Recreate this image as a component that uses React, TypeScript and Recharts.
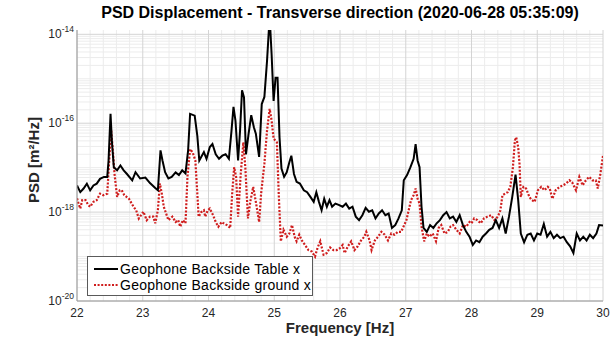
import React from 'react';
import { LineChart, Line, XAxis, YAxis, CartesianGrid, Legend } from 'recharts';

const tableFreq = [
  22.0, 22.05, 22.1, 22.15, 22.2, 22.25, 22.3, 22.35, 22.41, 22.46, 22.48, 22.51, 22.53, 22.56, 22.61, 22.66,
  22.71, 22.76, 22.84, 22.89, 22.96, 23.04, 23.11, 23.19, 23.23, 23.27, 23.3, 23.34, 23.39, 23.44, 23.5, 23.55,
  23.6, 23.65, 23.69, 23.72, 23.79, 23.83, 23.86, 23.93, 23.97, 24.02, 24.06, 24.11, 24.16, 24.21, 24.26, 24.31,
  24.35, 24.38, 24.41, 24.45, 24.48, 24.51, 24.54, 24.57, 24.61, 24.65, 24.69, 24.72, 24.77, 24.81, 24.85, 24.89,
  24.93, 24.96, 24.99, 25.02, 25.05, 25.08, 25.11, 25.15, 25.19, 25.23, 25.26, 25.3, 25.34, 25.39, 25.45, 25.5,
  25.55, 25.6, 25.64, 25.68, 25.72, 25.76, 25.8, 25.84, 25.88, 25.93, 25.98, 26.04, 26.09, 26.14, 26.19, 26.24,
  26.29, 26.34, 26.39, 26.44, 26.49, 26.54, 26.59, 26.64, 26.69, 26.74, 26.79, 26.84, 26.89, 26.94, 26.97, 27.02,
  27.07, 27.12, 27.15, 27.18, 27.21, 27.24, 27.27, 27.32, 27.37, 27.42, 27.47, 27.52, 27.57, 27.62, 27.67, 27.72,
  27.77, 27.82, 27.87, 27.92, 27.97, 28.02, 28.07, 28.12, 28.17, 28.22, 28.27, 28.32, 28.37, 28.42, 28.47, 28.52,
  28.57, 28.62, 28.67, 28.71, 28.75, 28.8, 28.85, 28.9, 28.95, 29.0, 29.05, 29.1, 29.15, 29.2, 29.25, 29.3,
  29.35, 29.4, 29.45, 29.5, 29.55, 29.6, 29.65, 29.7, 29.75, 29.8, 29.85, 29.9, 29.94, 30.0,
];
const tableVal = [
  3.98e-18, 2.82e-18, 3.39e-18, 4.37e-18, 3.09e-18, 3.98e-18, 4.37e-18, 5.6e-18, 6.2e-18, 6.2e-18, 1.45e-17, 1.62e-16, 4.07e-17, 1.02e-17, 8.7e-18, 1.12e-17,
  8.7e-18, 7.2e-18, 5.2e-18, 7.9e-18, 5.7e-18, 6.0e-18, 4.5e-18, 3.5e-18, 3.1e-18, 2.45e-17, 1.45e-17, 7.9e-18, 5.7e-18, 6.2e-18, 7.8e-18, 6.8e-18,
  8.7e-18, 7.4e-18, 2.45e-17, 1.62e-16, 1.48e-16, 5.2e-17, 1.45e-17, 2.24e-17, 1.58e-17, 2.9e-17, 3.4e-17, 2.0e-17, 1.58e-17, 1.86e-17, 2.0e-17, 1.58e-17,
  6.8e-17, 2.34e-16, 1.15e-16, 1.45e-17, 6.8e-17, 5.5e-16, 3.8e-16, 2.0e-17, 5.8e-17, 1.51e-16, 8.1e-17, 5.8e-17, 1.74e-17, 2.7e-16, 3.9e-16, 2.5e-15,
  2.5e-14, 3.5e-15, 3.16e-16, 1.05e-15, 1.05e-15, 4.8e-17, 9.5e-18, 6.2e-18, 7.9e-18, 1.32e-17, 1.86e-17, 7.2e-18, 4.8e-18, 4.4e-18, 3.1e-18, 2.8e-18,
  2.2e-18, 1.7e-18, 2.8e-18, 1.7e-18, 1.1e-18, 2.0e-18, 1.32e-18, 1.86e-18, 1.32e-18, 1.55e-18, 1.45e-18, 1.32e-18, 1.55e-18, 1.2e-18, 1.32e-18, 7.9e-19,
  6.6e-19, 8.5e-19, 1.25e-18, 1.02e-18, 1.1e-18, 7.2e-19, 9.3e-19, 1.1e-18, 8.5e-19, 9.3e-19, 4.4e-19, 5.1e-19, 7.2e-19, 1.1e-18, 5.2e-18, 6.8e-18,
  1.02e-17, 1.58e-17, 3.4e-17, 1.45e-17, 1.02e-17, 1.32e-18, 4.4e-19, 3.6e-19, 5.1e-19, 4.4e-19, 5.6e-19, 6.6e-19, 8.5e-19, 1.0e-18, 7.2e-19, 7.9e-19,
  6.0e-19, 8.5e-19, 5.1e-19, 3.6e-19, 2.8e-19, 1.82e-19, 2.3e-19, 2.1e-19, 2.8e-19, 3.3e-19, 4.0e-19, 4.4e-19, 6.6e-19, 4.4e-19, 7.2e-19, 3.3e-19,
  7.9e-19, 2.2e-18, 7.0e-18, 1.86e-18, 3.3e-19, 2.1e-19, 3.1e-19, 3.3e-19, 2.3e-19, 3.3e-19, 3.1e-19, 5.4e-19, 2.8e-19, 3.6e-19, 2.6e-19, 3.1e-19,
  2.6e-19, 2.8e-19, 2.1e-19, 1.7e-19, 1.2e-19, 3.3e-19, 2.3e-19, 2.8e-19, 2.3e-19, 3.1e-19, 2.6e-19, 3.3e-19, 5.1e-19, 5.0e-19,
];

const groundFreq = [
  22.0, 22.03, 22.05, 22.08, 22.13, 22.17, 22.2, 22.25, 22.3, 22.35, 22.4, 22.46, 22.49, 22.52, 22.55, 22.57,
  22.61, 22.65, 22.68, 22.72, 22.79, 22.86, 22.9, 22.94, 23.01, 23.06, 23.11, 23.16, 23.19, 23.23, 23.26, 23.29,
  23.32, 23.39, 23.45, 23.5, 23.54, 23.57, 23.61, 23.65, 23.68, 23.72, 23.76, 23.8, 23.83, 23.85, 23.89, 23.93,
  23.95, 23.99, 24.02, 24.07, 24.11, 24.15, 24.2, 24.23, 24.28, 24.33, 24.36, 24.39, 24.42, 24.45, 24.49, 24.53,
  24.56, 24.6, 24.64, 24.68, 24.72, 24.77, 24.8, 24.85, 24.89, 24.93, 24.96, 24.99, 25.04, 25.07, 25.1, 25.14,
  25.19, 25.23, 25.27, 25.31, 25.34, 25.38, 25.42, 25.47, 25.52, 25.57, 25.62, 25.66, 25.7, 25.75, 25.8, 25.85,
  25.9, 25.95, 26.0, 26.04, 26.07, 26.12, 26.17, 26.22, 26.27, 26.32, 26.37, 26.4, 26.45, 26.48, 26.53, 26.58,
  26.63, 26.68, 26.73, 26.78, 26.83, 26.88, 26.93, 27.01, 27.08, 27.12, 27.15, 27.18, 27.21, 27.24, 27.28, 27.32,
  27.36, 27.41, 27.46, 27.5, 27.54, 27.59, 27.64, 27.68, 27.72, 27.77, 27.82, 27.87, 27.92, 27.97, 28.0, 28.04,
  28.09, 28.14, 28.19, 28.24, 28.3, 28.35, 28.4, 28.44, 28.47, 28.51, 28.55, 28.59, 28.63, 28.66, 28.68, 28.71,
  28.73, 28.75, 28.79, 28.83, 28.88, 28.91, 28.96, 29.01, 29.06, 29.11, 29.16, 29.19, 29.23, 29.28, 29.34, 29.39,
  29.44, 29.49, 29.53, 29.59, 29.64, 29.69, 29.74, 29.79, 29.84, 29.89, 29.92, 29.96, 30.0,
];
const groundVal = [
  2.04e-18, 1.45e-18, 1.2e-18, 1.86e-18, 1.86e-18, 1.45e-18, 1.32e-18, 1.7e-18, 1.86e-18, 2.6e-18, 2.4e-18, 2.6e-18, 1.45e-17, 6.8e-17, 2.0e-17, 7.4e-18,
  2.2e-18, 3.1e-18, 3.1e-18, 2.4e-18, 2.0e-18, 1.32e-18, 1.1e-18, 7.2e-19, 1.02e-18, 6.6e-19, 7.9e-19, 7.9e-19, 5.6e-19, 1.1e-18, 4.4e-18, 2.6e-18,
  1.32e-18, 6.6e-19, 7.9e-19, 6.0e-19, 6.6e-19, 4.7e-19, 6.6e-19, 5.6e-19, 6.2e-18, 2.6e-17, 2.2e-17, 1.45e-17, 2.6e-18, 7.9e-19, 1.0e-18, 1.1e-18,
  7.9e-19, 1.1e-18, 1.2e-18, 8.5e-19, 6.0e-19, 4.7e-19, 6.0e-19, 5.6e-19, 5.1e-19, 4.4e-19, 2.6e-18, 1.02e-17, 6.2e-18, 7.9e-19, 7.2e-18, 3.7e-17,
  1.02e-17, 7.2e-19, 1.86e-18, 3.7e-18, 1.7e-18, 6.0e-19, 2.6e-18, 1.23e-17, 6.8e-17, 2.1e-16, 1.15e-16, 4.5e-17, 3.7e-17, 2.2e-18, 2.2e-19, 4.0e-19,
  2.8e-19, 3.3e-19, 5.1e-19, 2.8e-19, 2.2e-19, 3.1e-19, 2.3e-19, 1.8e-19, 1.4e-19, 1.3e-19, 1.0e-19, 1.6e-19, 2.2e-19, 1.1e-19, 1.2e-19, 1.6e-19,
  1.4e-19, 1.4e-19, 1.55e-19, 1.82e-19, 1.2e-19, 1.7e-19, 2.2e-19, 1.4e-19, 1.7e-19, 2.3e-19, 2.8e-19, 3.6e-19, 2.3e-19, 1.4e-19, 2.3e-19, 2.8e-19,
  3.6e-19, 3.1e-19, 2.3e-19, 3.3e-19, 3.1e-19, 3.6e-19, 3.6e-19, 6.6e-19, 1.86e-18, 2.4e-18, 3.4e-18, 2.0e-18, 1.55e-18, 4.7e-19, 2.2e-19, 3.3e-19,
  2.8e-19, 3.3e-19, 2.2e-19, 4.4e-19, 5.1e-19, 3.3e-19, 3.6e-19, 4.7e-19, 5.1e-19, 4.0e-19, 3.3e-19, 5.1e-19, 4.7e-19, 6.0e-19, 5.6e-19, 7.2e-19,
  6.6e-19, 5.6e-19, 7.2e-19, 7.9e-19, 8.5e-19, 6.6e-19, 7.9e-19, 1.1e-18, 2.4e-18, 2.6e-18, 2.8e-18, 3.7e-18, 1.02e-17, 4.1e-17, 4.8e-17, 2.9e-17,
  1.23e-17, 2.2e-18, 3.7e-18, 3.4e-18, 2.2e-18, 1.9e-18, 1.7e-18, 3.1e-18, 3.7e-18, 3.1e-18, 3.7e-18, 3.4e-18, 2.0e-18, 3.1e-18, 3.7e-18, 4.0e-18,
  4.4e-18, 5.2e-18, 4.7e-18, 3.1e-18, 6.2e-18, 4.0e-18, 5.2e-18, 6.2e-18, 5.2e-18, 5.2e-18, 3.4e-18, 7.2e-18, 1.86e-17,
];

const xTicks = [22, 23, 24, 25, 26, 27, 28, 29, 30];
const yTicks = [1e-20, 1e-18, 1e-16, 1e-14];
const seriesNames = ['Geophone Backside Table x', 'Geophone Backside ground x'];
const titleText = 'PSD Displacement - Transverse direction (2020-06-28 05:35:09)';

const tableData = tableFreq.map((f, i) => ({ f, v: tableVal[i] }));
const groundData = groundFreq.map((f, i) => ({ f, v: groundVal[i] }));

const Y_DOMAIN: [number, number] = [1e-20, 1.25e-14];
const X_DOMAIN: [number, number] = [22, 30];

// grid positions
const xMajor = xTicks;
const xMinor: number[] = [];
for (let i = 0; i <= 40; i++) {
  const v = Math.round((22 + i * 0.2) * 10) / 10;
  if (!xMajor.includes(v)) xMinor.push(v);
}
const yMajor = yTicks;
const yMinor: number[] = [];
for (let e = -20; e <= -15; e++) {
  for (let k = 1; k <= 9; k++) {
    const v = k * Math.pow(10, e);
    if (!(k === 1 && e % 2 === 0)) yMinor.push(v);
  }
}

const FONT = '"Liberation Sans", Arial, Helvetica, sans-serif';
const TXT = '#262626';
const RED = '#cf1d1d';

const XTick = (props: any) => {
  const { x, y, payload } = props;
  return (
    <text x={x} y={y + 16} textAnchor="middle" fontSize={12} fill={TXT} fontFamily={FONT}>
      {payload.value}
    </text>
  );
};

const YTick = (props: any) => {
  const { x, y, payload } = props;
  const exp = Math.round(Math.log10(payload.value));
  return (
    <text x={x - 3} y={y + 4} textAnchor="end" fontSize={12} fill={TXT} fontFamily={FONT}>
      10
      <tspan dy={-6} fontSize={8.5}>{exp}</tspan>
    </text>
  );
};

const LegendBox = () => (
  <div
    style={{
      width: 226,
      height: 40,
      border: '1px solid #5a5a5a',
      background: '#ffffff',
      fontFamily: FONT,
      fontSize: 14,
      letterSpacing: 0.25,
      color: '#000',
      boxSizing: 'border-box',
      paddingTop: 4,
    }}
  >
    {seriesNames.map((name, i) => (
      <div key={name} style={{ display: 'flex', alignItems: 'center', height: 16, lineHeight: '16px' }}>
        <svg width={32} height={16} style={{ display: 'block' }}>
          <line
            x1={6}
            x2={30}
            y1={8}
            y2={8}
            stroke={i === 0 ? '#000' : RED}
            strokeWidth={2}
            strokeDasharray={i === 0 ? undefined : '2 1.6'}
          />
        </svg>
        <span style={{ whiteSpace: 'nowrap' }}>{name}</span>
      </div>
    ))}
  </div>
);

export default function App() {
  return (
    <div style={{ position: 'absolute', left: 0, top: 0, width: 614, height: 341, background: '#fff' }}>
      <LineChart width={614} height={341} margin={{ top: 30, right: 11, bottom: 0, left: 0 }}>
        <CartesianGrid
          xAxisId="bottom"
          yAxisId="left"
          stroke="#ececec"
          strokeWidth={1}
          horizontalValues={yMinor}
          verticalValues={xMinor}
        />
        <CartesianGrid
          xAxisId="bottom"
          yAxisId="left"
          stroke="#d4d4d4"
          strokeWidth={1}
          horizontalValues={yMajor}
          verticalValues={xMajor}
        />
        <XAxis
          xAxisId="bottom"
          type="number"
          dataKey="f"
          domain={X_DOMAIN}
          ticks={xTicks}
          allowDataOverflow
          height={40}
          tickSize={0}
          tickMargin={0}
          tickLine={false}
          axisLine={{ stroke: '#9a9a9a' }}
          tick={<XTick />}
          interval={0}
          label={(p: any) => (
            <text x={340} y={333} textAnchor="middle" fontSize={15} fontWeight="bold" fill={TXT} fontFamily={FONT}>
              Frequency [Hz]
            </text>
          )}
        />
        <XAxis
          xAxisId="top"
          orientation="top"
          type="number"
          dataKey="f"
          domain={X_DOMAIN}
          allowDataOverflow
          height={0}
          tick={false}
          tickLine={false}
          axisLine={{ stroke: '#9a9a9a' }}
        />
        <YAxis
          yAxisId="left"
          scale="log"
          domain={Y_DOMAIN}
          ticks={yTicks}
          allowDataOverflow
          width={77}
          tickSize={0}
          tickMargin={0}
          tickLine={false}
          axisLine={{ stroke: '#9a9a9a' }}
          tick={<YTick />}
          interval={0}
          label={(p: any) => (
            <g>
              <text x={340} y={18} textAnchor="middle" fontSize={16} fontWeight="bold" fill="#000" fontFamily={FONT}>
                {titleText}
              </text>
              <text
                x={33}
                y={160}
                transform="rotate(-90, 33, 160)"
                textAnchor="middle"
                dominantBaseline="central"
                fontSize={15}
                fontWeight="bold"
                fill={TXT}
                fontFamily={FONT}
              >
                PSD [m²/Hz]
              </text>
            </g>
          )}
        />
        <YAxis
          yAxisId="right"
          orientation="right"
          scale="log"
          domain={Y_DOMAIN}
          allowDataOverflow
          width={0}
          tick={false}
          tickLine={false}
          axisLine={{ stroke: '#9a9a9a' }}
        />
        <Line
          xAxisId="bottom"
          yAxisId="left"
          data={groundData}
          dataKey="v"
          type="linear"
          stroke={RED}
          strokeWidth={2.2}
          strokeDasharray="2 1.6"
          dot={false}
          isAnimationActive={false}
        />
        <Line
          xAxisId="bottom"
          yAxisId="left"
          data={tableData}
          dataKey="v"
          type="linear"
          stroke="#000"
          strokeWidth={2}
          dot={false}
          isAnimationActive={false}
        />
        <Legend
          layout="horizontal"
          verticalAlign="middle"
          align="center"
          wrapperStyle={{ left: 87, top: 256, width: 227, height: 41 }}
          content={() => <LegendBox />}
        />
      </LineChart>
    </div>
  );
}
